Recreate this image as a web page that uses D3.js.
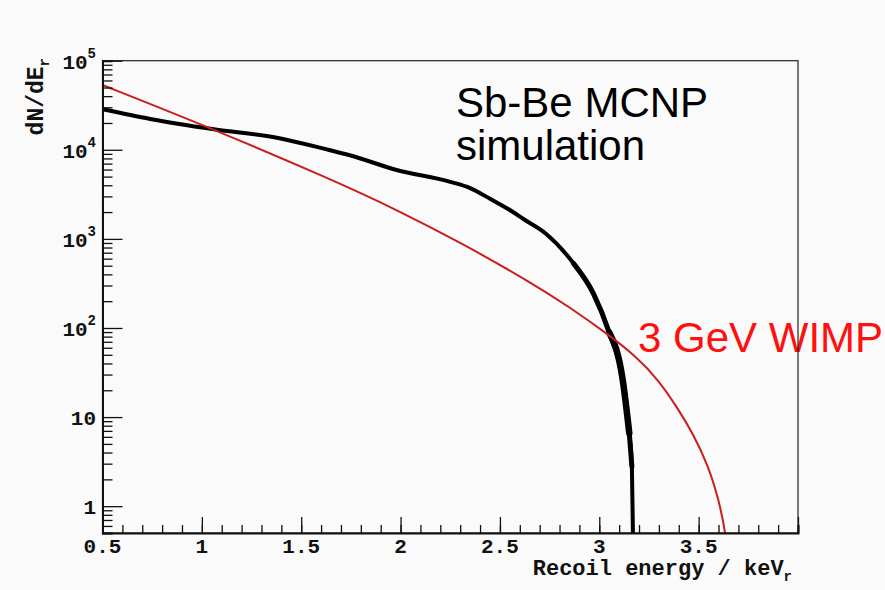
<!DOCTYPE html>
<html>
<head>
<meta charset="utf-8">
<script src="https://cdn.jsdelivr.net/npm/d3@7.9.0/dist/d3.min.js"></script>
<style>
  body { margin: 0; background: #fafafa; }
  svg { display: block; background: #fafafa; }
  .tick-label { font-family: "Liberation Mono", monospace; font-weight: bold; fill: #111; }
</style>
</head>
<body>
<svg width="885" height="590"></svg>
<script>
// MCNP simulation (black)
const mcnpEnergy = [0.5, 0.74, 1.06, 1.39, 1.64, 1.74, 1.98, 2.25, 2.35, 2.45, 2.56, 2.62, 2.73, 2.87, 2.97, 3.05, 3.117, 3.151, 3.164, 3.171];
const mcnpRate   = [28500, 22200, 17000, 13500, 9950, 8750, 5930, 4370, 3720, 2820, 2040, 1660, 1150, 532, 245, 89, 27, 6.6, 2.8, 0.3];

// 3 GeV WIMP (red)
const wimpEnergy = [0.5, 1.06, 1.64, 1.98, 2.31, 2.65, 2.85, 3.05, 3.18, 3.30, 3.40, 3.47, 3.55, 3.60, 3.637, 3.65];
const wimpRate   = [53300, 17000, 4770, 2130, 887, 331, 172, 83, 49, 26, 12, 6.6, 2.8, 1.2, 0.5, 0.2];

const xMajor = [0.5, 1, 1.5, 2, 2.5, 3, 3.5, 4];
const xLabels = ["0.5", "1", "1.5", "2", "2.5", "3", "3.5", ""];
const yMajor = [1, 10, 100, 1000, 10000, 100000];
const yBase = ["1", "10", "10", "10", "10", "10"];
const yExp = ["", "", "2", "3", "4", "5"];

const svg = d3.select("svg");
const mLeft = 102.5, mRight = 798, mTop = 60.7, mBottom = 533;

const x = d3.scaleLinear().domain([0.5, 4]).range([mLeft, mRight]);
const y = d3.scaleLog().domain([0.5, 1e5]).range([mBottom, mTop]);

svg.append("defs").append("clipPath").attr("id", "plot")
  .append("rect").attr("x", mLeft).attr("y", mTop)
  .attr("width", mRight - mLeft).attr("height", mBottom - mTop);

// annotations (drawn under the frame)
const sans = "Liberation Sans, Arial, sans-serif";
svg.append("text").attr("x", 456).attr("y", 116.7)
  .attr("font-family", sans).attr("font-size", 42).attr("fill", "#000").text("Sb-Be MCNP");
svg.append("text").attr("x", 456).attr("y", 160)
  .attr("font-family", sans).attr("font-size", 42).attr("fill", "#000").text("simulation");
svg.append("text").attr("x", 638).attr("y", 351.7)
  .attr("font-family", sans).attr("font-size", 42).attr("fill", "#ff1010").text("3 GeV WIMP");

// curves
const mcnp = mcnpEnergy.map((e, i) => [e, mcnpRate[i]]);
const wimp = wimpEnergy.map((e, i) => [e, wimpRate[i]]);
const line = d3.line().x(d => x(d[0])).y(d => y(d[1])).curve(d3.curveMonotoneX);
const smooth = d3.line().x(d => x(d[0])).y(d => y(d[1])).curve(d3.curveBasis);

const plot = svg.append("g").attr("clip-path", "url(#plot)");
plot.append("path").attr("d", line(mcnp))
  .attr("fill", "none").attr("stroke", "#000").attr("stroke-width", 4);
// the noisy tail of the simulation looks thicker
plot.append("path").attr("d", line(mcnp.filter(d => d[0] >= 2.87 && d[0] <= 3.164)))
  .attr("fill", "none").attr("stroke", "#000").attr("stroke-width", 5)
  .attr("stroke-linecap", "round");
plot.append("path").attr("d", line(mcnp.filter(d => d[0] >= 3.05 && d[0] <= 3.151)))
  .attr("fill", "none").attr("stroke", "#000").attr("stroke-width", 6.5)
  .attr("stroke-linecap", "round");
plot.append("path").attr("d", smooth(wimp))
  .attr("fill", "none").attr("stroke", "#c81e1e").attr("stroke-width", 2);

// frame
svg.append("rect")
  .attr("x", mLeft).attr("y", mTop).attr("width", mRight - mLeft).attr("height", mBottom - mTop)
  .attr("fill", "none").attr("stroke", "#222").attr("stroke-width", 1.2);

// x axis ticks (inside)
const xMinor = d3.range(0.5, 4.001, 0.1).map(v => +v.toFixed(1));
svg.append("g").attr("transform", `translate(0,${mBottom})`)
  .call(d3.axisBottom(x).tickValues(xMinor).tickSize(-8).tickFormat(""))
  .call(g => g.select(".domain").attr("stroke", "#111").attr("stroke-width", 2));
svg.append("g").attr("transform", `translate(0,${mBottom})`)
  .call(d3.axisBottom(x).tickValues(xMajor).tickSize(-16).tickFormat(""))
  .call(g => g.select(".domain").remove());
svg.selectAll(".tick line").attr("stroke", "#111").attr("stroke-width", 1.3);

svg.append("g").selectAll("text").data(xMajor).join("text")
  .attr("class", "tick-label").style("font-size", "21px")
  .attr("x", d => x(d)).attr("y", 553)
  .attr("text-anchor", "middle")
  .text((d, i) => xLabels[i]);

// y axis ticks (inside)
const yMinor = [];
for (let p = -1; p <= 4; p++) {
  for (let k = 2; k <= 9; k++) {
    const v = k * Math.pow(10, p);
    if (v >= 0.5 && v <= 1e5) yMinor.push(v);
  }
}
svg.append("g").attr("transform", `translate(${mLeft},0)`)
  .call(d3.axisLeft(y).tickValues(yMinor).tickSize(-10).tickFormat(""))
  .call(g => g.select(".domain").attr("stroke", "#111").attr("stroke-width", 2))
  .call(g => g.selectAll(".tick line").attr("stroke", "#111").attr("stroke-width", 1.3));
svg.append("g").attr("transform", `translate(${mLeft},0)`)
  .call(d3.axisLeft(y).tickValues(yMajor).tickSize(-20).tickFormat(""))
  .call(g => g.select(".domain").remove())
  .call(g => g.selectAll(".tick line").attr("stroke", "#111").attr("stroke-width", 1.3));

const yl = svg.append("g").selectAll("text").data(yMajor).join("text")
  .attr("class", "tick-label").style("font-size", "21px")
  .attr("x", 96).attr("y", d => y(d) + 8)
  .attr("text-anchor", "end");
yl.append("tspan").text((d, i) => yBase[i]);
yl.append("tspan").attr("dy", -11).style("font-size", "14px").text((d, i) => yExp[i]);

// axis titles
const xt = svg.append("text").attr("class", "tick-label").style("font-size", "22px")
  .attr("x", 792).attr("y", 575).attr("text-anchor", "end");
xt.append("tspan").text("Recoil energy / keV");
xt.append("tspan").attr("dy", 6).style("font-size", "14px").text("r");

const yt = svg.append("text").attr("class", "tick-label").style("font-size", "23px")
  .attr("transform", "translate(43,58) rotate(-90)")
  .attr("text-anchor", "end");
yt.append("tspan").text("dN/dE");
yt.append("tspan").attr("dy", 6).style("font-size", "14px").text("r");
</script>
</body>
</html>
